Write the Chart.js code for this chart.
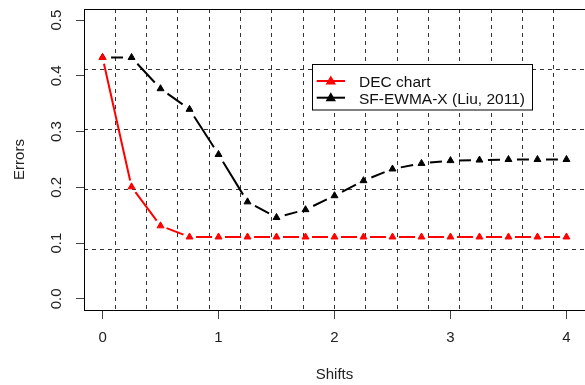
<!DOCTYPE html>
<html><head><meta charset="utf-8">
<script src="https://cdn.jsdelivr.net/npm/chart.js@4"></script>
<style>html,body{margin:0;padding:0;background:#fff;overflow:hidden}#wrap{width:585px;height:385px}</style>
</head><body><div id="wrap"><canvas id="c" width="585" height="385"></canvas></div>
<script>
const shifts = [0,0.25,0.5,0.75,1,1.25,1.5,1.75,2,2.25,2.5,2.75,3,3.25,3.5,3.75,4];
const decChart = [0.433,0.201,0.131,0.111,0.111,0.111,0.111,0.111,0.111,0.111,0.111,0.111,0.111,0.111,0.111,0.111,0.111];
const sfEwma = [0.433,0.433,0.377,0.340,0.259,0.174,0.146,0.160,0.185,0.212,0.233,0.243,0.248,0.249,0.250,0.250,0.250];
const xTicks = [0,1,2,3,4];
const xTickLabels = ['0','1','2','3','4'];
const yTicks = [0,0.1,0.2,0.3,0.4,0.5];
const yTickLabels = ['0.0','0.1','0.2','0.3','0.4','0.5'];
const seriesLabels = ['DEC chart','SF-EWMA-X (Liu, 2011)'];
const xTitle = 'Shifts';
const yTitle = 'Errors';
const gridXCells = 16, gridYCells = 5;

const FONT = '"Liberation Sans", Arial, sans-serif';
const pts = arr => shifts.map((s,i)=>({x:s,y:arr[i]}));
const range = (n)=>Array.from({length:n+1},(_,i)=>({value:i}));

const gapLines = {
  id:'gapLines',
  beforeDatasetDraw(chart,args){
    const ds = chart.data.datasets[args.index];
    const p = args.meta.data;
    const ctx = chart.ctx, a = chart.chartArea;
    ctx.save();
    ctx.beginPath(); ctx.rect(a.left,a.top,a.right-a.left,a.bottom-a.top); ctx.clip();
    ctx.strokeStyle = ds.borderColor; ctx.lineWidth = ds.lineW; ctx.lineCap='butt';
    ctx.beginPath();
    for(let i=0;i<p.length-1;i++){
      const x0=p[i].x,y0=p[i].y,x1=p[i+1].x,y1=p[i+1].y;
      const d=Math.hypot(x1-x0,y1-y0); const g=ds.gap;
      if(d<=2*g) continue;
      const ux=(x1-x0)/d, uy=(y1-y0)/d;
      ctx.moveTo(x0+ux*g,y0+uy*g); ctx.lineTo(x1-ux*g,y1-uy*g);
    }
    ctx.stroke(); ctx.restore();
  }
};
const boxLegend = {
  id:'boxLegend',
  afterDatasetsDraw(chart){
    const ctx=chart.ctx,a=chart.chartArea;
    ctx.save();
    ctx.strokeStyle='#000'; ctx.lineWidth=1;
    ctx.strokeRect(Math.round(a.left)+0.5,Math.round(a.top)+0.5,a.right-a.left,a.bottom-a.top);
    const L=312.5,T=64.5,W=220,H=45.5;
    ctx.fillStyle='#fff'; ctx.fillRect(L,T,W,H); ctx.strokeRect(L,T,W,H);
    const order=[0,1], ys=[81,97.7], bases=[87.3,104];
    order.forEach((di,k)=>{
      const ds=chart.data.datasets[di];
      ctx.strokeStyle=ds.borderColor; ctx.lineWidth=ds.lineW;
      ctx.beginPath(); ctx.moveTo(316.7,ys[k]); ctx.lineTo(345,ys[k]); ctx.stroke();
      ctx.fillStyle=ds.backgroundColor; ctx.strokeStyle=ds.borderColor;
      Chart.helpers.drawPoint(ctx,{pointStyle:'triangle',radius:4,borderWidth:1},330.8,ys[k]+0.5);
      ctx.fillStyle='#111'; ctx.font='15.5px '+FONT; ctx.textBaseline='alphabetic'; ctx.textAlign='left';
      ctx.fillText(ds.label,359,bases[k]);
    });
    ctx.restore();
  }
};
const zeroPad = s => { s.paddingTop=0; s.paddingBottom=0; s.paddingLeft=0; s.paddingRight=0; };

new Chart(document.getElementById('c'),{
  type:'scatter',
  data:{datasets:[
    {label:seriesLabels[0],data:pts(decChart),showLine:false,borderColor:'#ff0000',backgroundColor:'#ff0000',
     pointStyle:'triangle',pointRadius:4,pointBorderWidth:1,pointHoverRadius:4,lineW:2,gap:6.5},
    {label:seriesLabels[1],data:pts(sfEwma),showLine:false,borderColor:'#000000',backgroundColor:'#000000',
     pointStyle:'triangle',pointRadius:4,pointBorderWidth:1,pointHoverRadius:4,lineW:2,gap:8.5}
  ]},
  options:{
    responsive:false,animation:false,devicePixelRatio:1,
    layout:{autoPadding:false,padding:{top:9,left:0,right:0,bottom:0}},
    plugins:{legend:{display:false},tooltip:{enabled:false}},
    scales:{
      x:{type:'linear',position:'bottom',min:-0.16,max:4.16,
        afterBuildTicks:s=>{s.ticks=xTicks.map(v=>({value:v}));},
        ticks:{autoSkip:false,maxRotation:0,padding:10,color:'#222',font:{family:FONT,size:15},
          callback:v=>xTickLabels[xTicks.indexOf(v)]},
        grid:{drawOnChartArea:false,drawTicks:true,tickLength:9,tickColor:'#444',tickWidth:1},
        border:{display:false},
        title:{display:true,text:xTitle,color:'#222',font:{family:FONT,size:15},padding:{top:0,bottom:1}},
        afterFit:s=>{s.height=75;zeroPad(s);}
      },
      y:{type:'linear',position:'left',min:-0.02,max:0.52,
        afterBuildTicks:s=>{s.ticks=yTicks.map(v=>({value:v}));},
        ticks:{autoSkip:false,minRotation:90,maxRotation:90,crossAlign:'center',padding:8.5,color:'#222',font:{family:FONT,size:15},
          callback:v=>yTickLabels[yTicks.findIndex(t=>Math.abs(t-v)<1e-9)]},
        grid:{drawOnChartArea:false,drawTicks:true,tickLength:8,tickColor:'#444',tickWidth:1},
        border:{display:false},
        title:{display:true,text:yTitle,color:'#222',font:{family:FONT,size:15},padding:{top:11,bottom:0}},
        afterFit:s=>{s.width=84;zeroPad(s);}
      },
      gx:{type:'linear',axis:'x',position:'top',min:0,max:gridXCells,
        afterBuildTicks:s=>{s.ticks=range(gridXCells);},
        ticks:{display:false},
        grid:{drawOnChartArea:true,drawTicks:false,color:'#333',lineWidth:1},
        border:{display:false,dash:[4,4]},
        afterFit:s=>{s.height=0;zeroPad(s);}
      },
      gy:{type:'linear',axis:'y',position:'right',min:0,max:gridYCells,
        afterBuildTicks:s=>{s.ticks=range(gridYCells);},
        ticks:{display:false},
        grid:{drawOnChartArea:true,drawTicks:false,color:'#333',lineWidth:1},
        border:{display:false,dash:[4,4]},
        afterFit:s=>{s.width=0;zeroPad(s);}
      }
    }
  },
  plugins:[gapLines,boxLegend]
});
</script></body></html>
